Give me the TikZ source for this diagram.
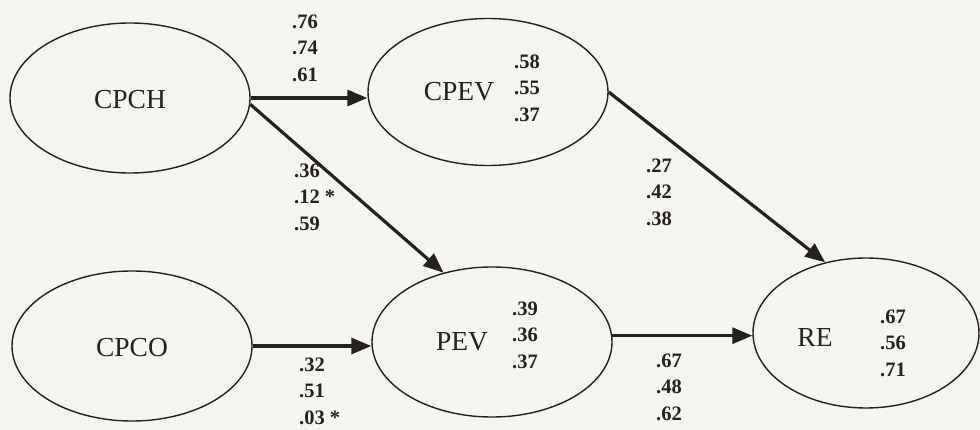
\documentclass[tikz,border=0pt]{standalone}
\usepackage{fontspec}
\setmainfont{Liberation Serif}
\usetikzlibrary{arrows.meta,shapes.geometric}
\definecolor{paper}{RGB}{244,244,241}
\definecolor{ink}{RGB}{38,32,32}
\tikzset{
  latent/.style={ellipse, draw=ink, line width=1.4pt, inner sep=0pt, minimum width=240pt, minimum height=150pt},
  lbl/.style={text=ink, font=\fontsize{27.5}{30}\selectfont, inner sep=0pt},
  vals/.style={text=ink, font=\fontsize{20.5}{26.5}\selectfont\bfseries, align=left, anchor=west, inner sep=0pt},
  path/.style={draw=ink, line width=3.2pt, -{Triangle[length=20pt,width=16pt]}}
}
\begin{document}
\begin{tikzpicture}[x=1pt,y=-1pt]
\fill[paper] (0,0) rectangle (980,430);
\useasboundingbox (0,0) rectangle (980,430);

\node[latent] (cpch) at (130,98) {};
\node[latent] (cpco) at (132,346) {};
\node[latent, minimum height=147pt] (cpev) at (488,92) {};
\node[latent] (pev) at (492,342) {};
\node[latent, minimum width=226pt] (re) at (866,333) {};

\node[lbl] (tcpch) at (130,100) {CPCH};
\node[lbl] (tcpco) at (132,348) {CPCO};
\node[lbl] (tcpev) at (459,92) {CPEV};
\node[lbl] (tpev) at (462,342) {PEV};
\node[lbl] (tre) at (815,337) {RE};

\node[vals] (v1) at (292,48) {.76\\.74\\.61};
\node[vals] (v2) at (294,197) {.36\\.12 *\\.59};
\node[vals] (v3) at (299,391) {.32\\.51\\.03 *};
\node[vals] (v4) at (514,88) {.58\\.55\\.37};
\node[vals] (v5) at (512,335) {.39\\.36\\.37};
\node[vals] (v6) at (646,192) {.27\\.42\\.38};
\node[vals] (v7) at (656,387) {.67\\.48\\.62};
\node[vals] (v8) at (880,343) {.67\\.56\\.71};

\draw[path] (cpch.east) -- (cpch.east -| cpev.west);
\draw[path] (cpch.-3) -- (pev.125);
\draw[path] (cpco.east) -- (cpco.east -| pev.west);
\draw[path] (cpev.east) -- (re.120);
\draw[path] (pev.3) -- (pev.3 -| re.west);
\end{tikzpicture}
\end{document}
